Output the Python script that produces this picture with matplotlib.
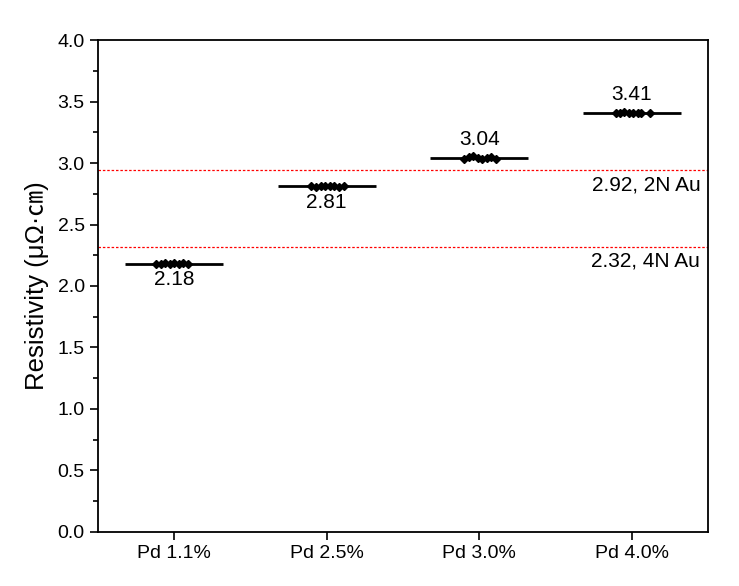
import matplotlib
matplotlib.use("Agg")
import matplotlib.pyplot as plt
from matplotlib.ticker import MultipleLocator

categories = ["Pd 1.1%", "Pd 2.5%", "Pd 3.0%", "Pd 4.0%"]
means = [2.18, 2.81, 3.04, 3.41]
mean_labels = ["2.18", "2.81", "3.04", "3.41"]
samples = [
    [2.175, 2.18, 2.185, 2.18, 2.19, 2.18, 2.185, 2.18],
    [2.81, 2.805, 2.815, 2.81, 2.81, 2.815, 2.805, 2.81],
    [3.035, 3.045, 3.055, 3.04, 3.035, 3.04, 3.045, 3.035],
    [3.41, 3.405, 3.415, 3.41, 3.41, 3.405, 3.41, 3.41],
]
jitter = [
    [-0.12, -0.09, -0.06, -0.03, 0.0, 0.03, 0.06, 0.09],
    [-0.10, -0.07, -0.04, -0.01, 0.02, 0.05, 0.08, 0.11],
    [-0.10, -0.07, -0.04, -0.01, 0.02, 0.05, 0.08, 0.11],
    [-0.10, -0.08, -0.05, -0.02, 0.01, 0.04, 0.06, 0.12],
]
ref_values = [2.94, 2.32]
ref_labels = ["2.92, 2N Au", "2.32, 4N Au"]

plt.rcParams['font.family'] = ['Liberation Sans', 'Noto Sans CJK SC', 'DejaVu Sans']

fig = plt.figure(figsize=(7.39, 5.86), dpi=100)
ax = fig.add_axes([0.1326, 0.0922, 0.8254, 0.8395])

xs = list(range(1, len(categories) + 1))
for i, x in enumerate(xs):
    ax.hlines(means[i], x - 0.32, x + 0.32, color='black', lw=2)
    ax.plot([x + j for j in jitter[i]], samples[i], 'D', color='black', ms=4.5, mec='black')
    if i < 2:
        ax.text(x, means[i] - 0.05, mean_labels[i], ha='center', va='top', fontsize=15)
    else:
        ax.text(x, means[i] + 0.07, mean_labels[i], ha='center', va='bottom', fontsize=15)

for v, lab in zip(ref_values, ref_labels):
    ax.axhline(v, color='red', ls=(0, (2, 1.5)), lw=0.9)
    ax.text(4.45, v - 0.04, lab, ha='right', va='top', fontsize=15)

ax.set_xlim(0.5, 4.5)
ax.set_ylim(0, 4.0)
ax.set_xticks(xs)
ax.set_xticklabels(categories, fontsize=14)
ax.yaxis.set_major_locator(MultipleLocator(0.5))
ax.yaxis.set_minor_locator(MultipleLocator(0.25))
ax.tick_params(axis='y', which='major', direction='out', length=6, width=1.2, labelsize=14)
ax.tick_params(axis='y', which='minor', direction='out', length=3.5, width=1.2)
ax.tick_params(axis='x', direction='out', length=6, width=1.2)
for s in ax.spines.values():
    s.set_linewidth(1.3)
ax.set_ylabel("Resistivity (μΩ·㎝)", fontsize=18.5, labelpad=6)

fig.savefig("out.png", dpi=100)
